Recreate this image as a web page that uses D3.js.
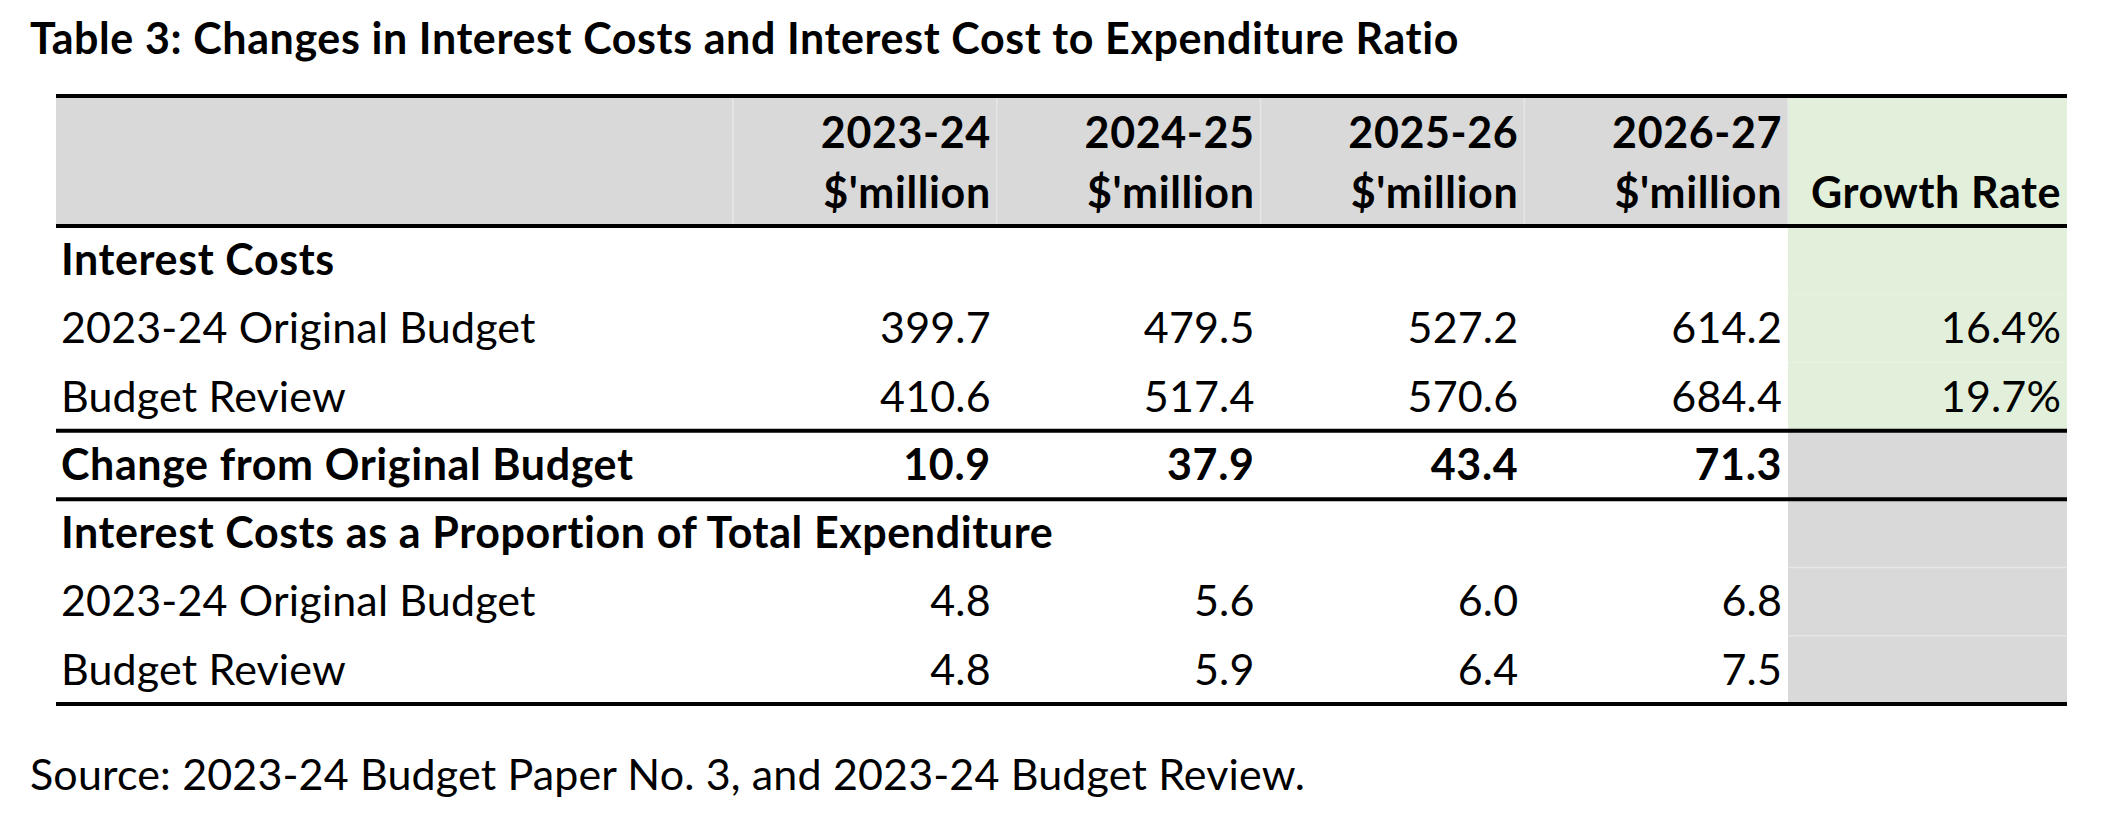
<!DOCTYPE html>
<meta charset="utf-8">
<style>
  body { margin: 0; background: #fff; }
  text { font-family: "Lato", "Open Sans", sans-serif; fill: #000; letter-spacing: 0.15px; }
  text.b, .b text { letter-spacing: 0.6px; }
</style>

<!-- Load d3.js -->
<script src="https://d3js.org/d3.v7.min.js"></script>

<div id="table3"></div>

<script>

    const years = ["2023-24", "2024-25", "2025-26", "2026-27"];
    const unitLabel = "$'million";
    const growthLabel = "Growth Rate";

    const originalBudget = [399.7, 479.5, 527.2, 614.2];
    const budgetReview = [410.6, 517.4, 570.6, 684.4];
    const changeFromOriginal = [10.9, 37.9, 43.4, 71.3];
    const growthRates = [16.4, 19.7];
    const propOriginal = [4.8, 5.6, 6.0, 6.8];
    const propReview = [4.8, 5.9, 6.4, 7.5];

    const rowLabels = [
        "Interest Costs",
        "2023-24 Original Budget",
        "Budget Review",
        "Change from Original Budget",
        "Interest Costs as a Proportion of Total Expenditure",
        "2023-24 Original Budget",
        "Budget Review"
    ];

    const title = "Table 3: Changes in Interest Costs and Interest Cost to Expenditure Ratio";
    const source = "Source: 2023-24 Budget Paper No. 3, and 2023-24 Budget Review.";

    // table rows built from the arrays above
    const rows = [
        {label: rowLabels[0], bold: true, values: null, growth: null},
        {label: rowLabels[1], bold: false, values: originalBudget, growth: growthRates[0]},
        {label: rowLabels[2], bold: false, values: budgetReview, growth: growthRates[1]},
        {label: rowLabels[3], bold: true, values: changeFromOriginal, growth: null},
        {label: rowLabels[4], bold: true, values: null, growth: null},
        {label: rowLabels[5], bold: false, values: propOriginal, growth: null},
        {label: rowLabels[6], bold: false, values: propReview, growth: null}
    ];
    rows.forEach((d, i) => d.key = i);

    const width = 2128, height = 826;
    const fontSize = 43;
    const headerGray = "#d9d9d9", growthGreen = "#e2efda", cellLine = "#e6e6e6";

    const svg = d3.select("#table3")
        .append("svg")
        .attr("width", width)
        .attr("height", height);

    // table frame
    const tableLeft = 56, tableRight = 2067;
    const headerTop = 96, headerBottom = 226, tableBottom = 704;

    // columns: year columns on a band scale, growth column after them
    const x = d3.scaleBand()
        .domain(years)
        .range([733, 1788])
        .padding(0);
    const growthLeft = x.range()[1];

    // rows on a band scale
    const y = d3.scaleBand()
        .domain(rows.map(d => d.key))
        .range([headerBottom, tableBottom])
        .padding(0);

    const fmt = d3.format(".1f");
    const pad = 6;
    const baseOffset = 49;

    // header backgrounds
    svg.append("rect")
        .attr("x", tableLeft).attr("y", headerTop)
        .attr("width", growthLeft - tableLeft).attr("height", headerBottom - headerTop)
        .attr("fill", headerGray);
    svg.append("rect")
        .attr("x", growthLeft).attr("y", headerTop)
        .attr("width", tableRight - growthLeft).attr("height", headerBottom - headerTop)
        .attr("fill", growthGreen);

    // growth column backgrounds per row
    svg.append("g")
        .selectAll("rect")
        .data(rows)
        .join("rect")
        .attr("x", growthLeft)
        .attr("y", d => y(d.key))
        .attr("width", tableRight - growthLeft)
        .attr("height", y.bandwidth())
        .attr("fill", d => d.key <= 2 ? growthGreen : headerGray);

    // faint cell borders in the shaded areas
    svg.append("g")
        .selectAll("line")
        .data(years.map(t => x(t)).concat([growthLeft]))
        .join("line")
        .attr("x1", d => d).attr("x2", d => d)
        .attr("y1", headerTop).attr("y2", headerBottom)
        .attr("stroke", cellLine).attr("stroke-width", 1.5);
    svg.append("g")
        .selectAll("line")
        .data(rows.filter(d => d.key >= 4))
        .join("line")
        .attr("x1", growthLeft + 1).attr("x2", tableRight)
        .attr("y1", d => y(d.key)).attr("y2", d => y(d.key))
        .attr("stroke", cellLine).attr("stroke-width", 1.5);

    // thick rules
    const rules = [headerTop, headerBottom, y(3), y(4), tableBottom];
    svg.append("g")
        .selectAll("line")
        .data(rules)
        .join("line")
        .attr("x1", tableLeft).attr("x2", tableRight)
        .attr("y1", d => d).attr("y2", d => d)
        .attr("stroke", "#000")
        .attr("stroke-width", 4);

    // title
    svg.append("text")
        .attr("class", "b")
        .attr("x", 30).attr("y", 54)
        .attr("font-size", fontSize)
        .attr("font-weight", "bold")
        .text(title);

    // column headers
    const header = svg.append("g")
        .attr("class", "b")
        .attr("font-size", fontSize)
        .attr("font-weight", "bold")
        .attr("text-anchor", "end");
    header.selectAll("text.year")
        .data(years)
        .join("text")
        .attr("class", "year")
        .attr("x", d => x(d) + x.bandwidth() - pad)
        .attr("y", headerTop + 52)
        .text(d => d);
    header.selectAll("text.unit")
        .data(years)
        .join("text")
        .attr("class", "unit")
        .attr("x", d => x(d) + x.bandwidth() - pad)
        .attr("y", headerTop + 112)
        .text(unitLabel);
    header.append("text")
        .attr("x", tableRight - pad)
        .attr("y", headerTop + 112)
        .text(growthLabel);

    // body rows
    const rowG = svg.append("g")
        .attr("font-size", fontSize)
        .selectAll("g")
        .data(rows)
        .join("g")
        .attr("class", d => d.bold ? "b" : null)
        .attr("transform", d => `translate(0, ${y(d.key) + baseOffset})`)
        .attr("font-weight", d => d.bold ? "bold" : "normal");

    rowG.append("text")
        .attr("x", tableLeft + 5)
        .text(d => d.label);

    rowG.selectAll("text.val")
        .data(d => d.values ? d.values.map((v, i) => ({v, year: years[i]})) : [])
        .join("text")
        .attr("class", "val")
        .attr("text-anchor", "end")
        .attr("x", d => x(d.year) + x.bandwidth() - pad)
        .text(d => fmt(d.v));

    rowG.filter(d => d.growth != null)
        .append("text")
        .attr("text-anchor", "end")
        .attr("x", tableRight - pad)
        .text(d => fmt(d.growth) + "%");

    // source note
    svg.append("text")
        .attr("x", 30).attr("y", 790)
        .attr("font-size", fontSize)
        .text(source);

</script>
